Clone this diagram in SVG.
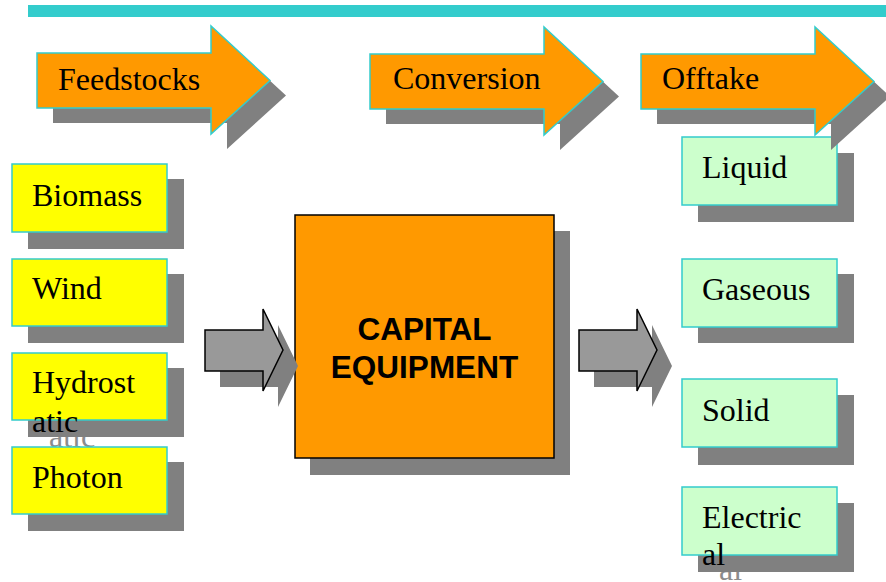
<svg xmlns="http://www.w3.org/2000/svg" width="886" height="582" viewBox="0 0 886 582">
<defs>
<style>
.sh{fill:#808080;stroke:none}
.hdr{fill:#FF9900;stroke:#33CCCC;stroke-width:1.5}
.yb{fill:#FFFF00;stroke:#33CCCC;stroke-width:1.5}
.gb{fill:#CCFFCC;stroke:#33CCCC;stroke-width:1.5}
.t{font-family:"Liberation Serif","Times New Roman",serif;font-size:32px;fill:#000}
.ts{font-family:"Liberation Serif","Times New Roman",serif;font-size:32px;fill:#8c8c8c}
.ga{fill:#999999;stroke:#000;stroke-width:1.5;stroke-linejoin:miter}
.cap{font-family:"Liberation Sans",Arial,sans-serif;font-size:31.5px;font-weight:bold;fill:#000;text-anchor:middle}
</style>
<path id="bigArrow" d="M0,27 H174 V0 L233,54.5 L174,108 V82 H0 Z"/>
<path id="smallArrow" d="M0,21 H58 V0 L78,41 L58,82 V62 H0 Z"/>
</defs>
<rect x="28" y="5" width="858" height="12" fill="#33CCCC"/>

<g id="biomass">
<rect class="sh" x="28" y="179" width="156" height="70"/>
<rect class="yb" x="12" y="164" width="155" height="68"/>
<text class="t" x="32" y="206">Biomass</text>
</g>
<g id="wind">
<rect class="sh" x="28" y="274" width="156" height="69"/>
<rect class="yb" x="12" y="259" width="155" height="67"/>
<text class="t" x="32" y="299">Wind</text>
</g>
<g id="hydrostatic">
<text class="ts" x="49" y="447">atic</text>
<rect class="sh" x="28" y="368" width="156" height="69"/>
<rect class="yb" x="12" y="353" width="155" height="67"/>
<text class="t" x="32" y="393">Hydrost</text>
<text class="t" x="32" y="432">atic</text>
</g>
<g id="photon">
<rect class="sh" x="28" y="462" width="156" height="69"/>
<rect class="yb" x="12" y="447" width="155" height="67"/>
<text class="t" x="32" y="488">Photon</text>
</g>

<g id="liquid">
<rect class="sh" x="698" y="153" width="156" height="69"/>
<rect class="gb" x="682" y="137" width="155" height="68"/>
<text class="t" x="702" y="178">Liquid</text>
</g>
<g id="gaseous">
<rect class="sh" x="698" y="274" width="156" height="69"/>
<rect class="gb" x="682" y="259" width="155" height="68"/>
<text class="t" x="702" y="300">Gaseous</text>
</g>
<g id="solid">
<rect class="sh" x="698" y="395" width="156" height="70"/>
<rect class="gb" x="682" y="379" width="155" height="68"/>
<text class="t" x="702" y="421">Solid</text>
</g>
<g id="electrical">
<text class="ts" x="719" y="580">al</text>
<rect class="sh" x="698" y="503" width="156" height="69"/>
<rect class="gb" x="682" y="487" width="155" height="68"/>
<text class="t" x="702" y="528">Electric</text>
<text class="t" x="702" y="565">al</text>
</g>

<g id="feedstocks">
<use href="#bigArrow" class="sh" x="53" y="41"/>
<use href="#bigArrow" class="hdr" x="37" y="26"/>
<text class="t" x="58" y="90">Feedstocks</text>
</g>
<g id="conversion">
<use href="#bigArrow" class="sh" x="386" y="42"/>
<use href="#bigArrow" class="hdr" x="370" y="27"/>
<text class="t" x="393" y="89">Conversion</text>
</g>
<g id="offtake">
<use href="#bigArrow" class="sh" x="657" y="42"/>
<use href="#bigArrow" class="hdr" x="641" y="27"/>
<text class="t" x="662" y="89">Offtake</text>
</g>

<g id="capital-equipment">
<rect class="sh" x="310" y="231" width="260" height="244"/>
<rect x="295" y="215" width="259" height="243" fill="#FF9900" stroke="#000" stroke-width="1.5"/>
<text class="cap" x="424.5" y="340">CAPITAL</text>
<text class="cap" x="424.5" y="378">EQUIPMENT</text>
</g>

<g id="connectors">
<use href="#smallArrow" class="sh" x="220" y="325"/>
<use href="#smallArrow" class="ga" x="205" y="309"/>
<use href="#smallArrow" class="sh" x="594" y="325"/>
<use href="#smallArrow" class="ga" x="579" y="309"/>
</g>
</svg>
